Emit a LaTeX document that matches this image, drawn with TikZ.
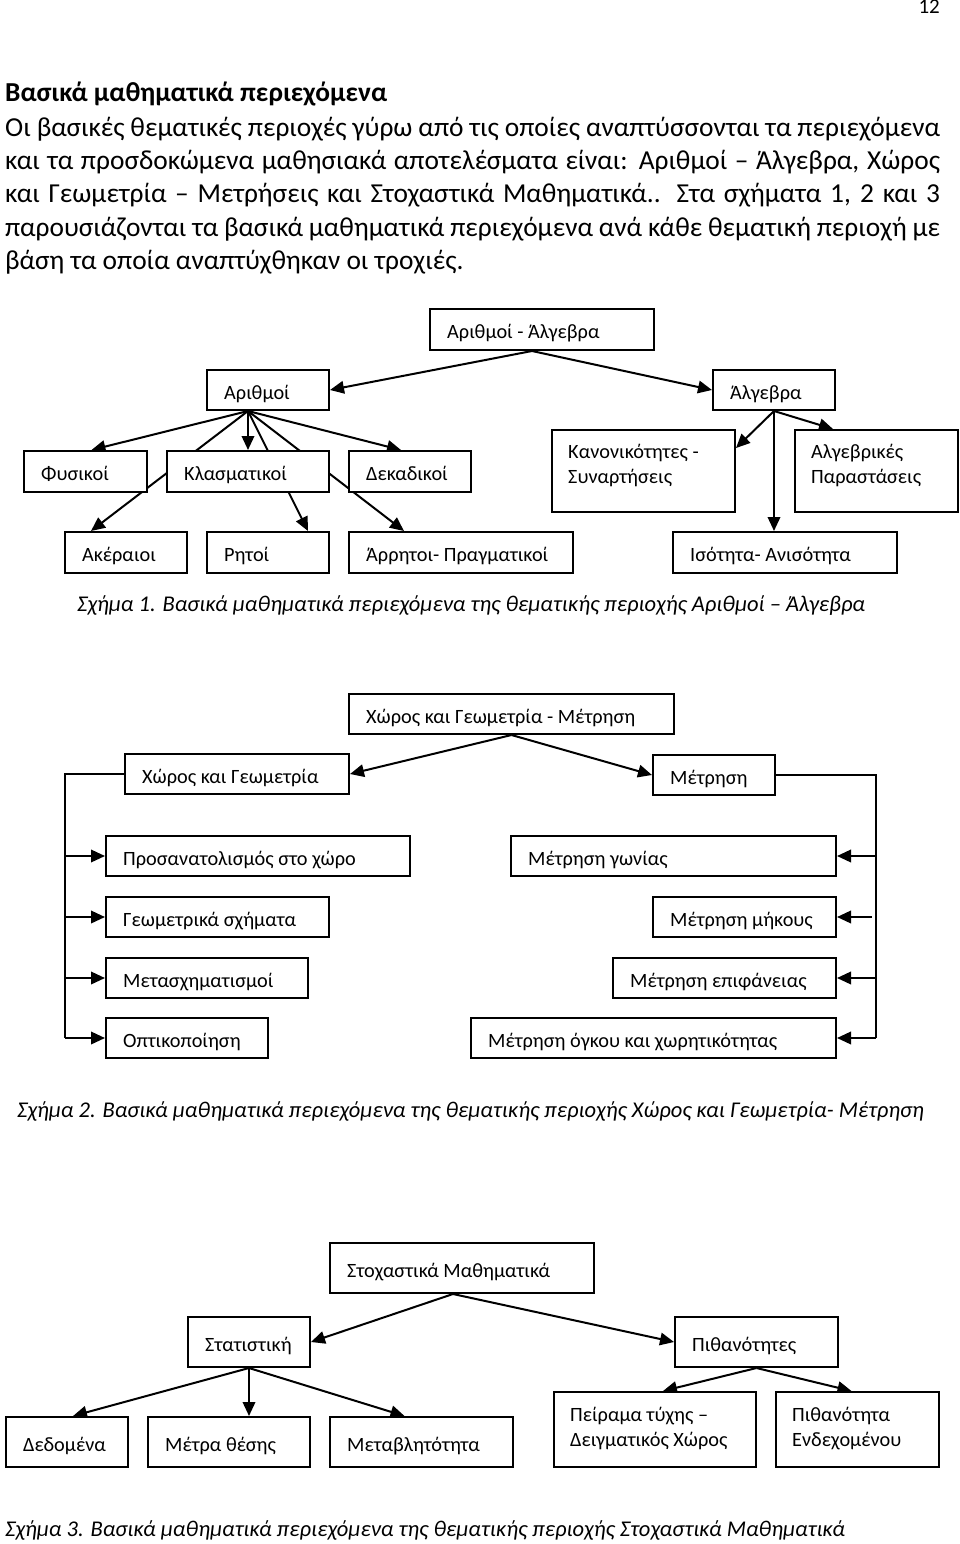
\documentclass[tikz,border=0pt]{standalone}
\usepackage{fontspec}
\setmainfont{Carlito}
\usetikzlibrary{arrows.meta,calc}
\pgfdeclarelayer{bg}
\pgfsetlayers{bg,main}
\newcommand\hdrfont{\fontsize{27.4}{33.3}\selectfont}
\newcommand\boxfont{\fontsize{20.3}{24.5}\selectfont}
\newcommand\capfont{\fontsize{22.5}{26}\selectfont\itshape}
\newcommand\bx[6]{%
  \node[box,minimum width=#4pt,minimum height=#5pt,anchor=north west] (#1) at (#2,#3) {};
  \node[lbl] (#1t) at ($(#1.west)+(18,9)$) {#6};}
\newcommand\bxtwo[8]{%
  \node[box,minimum width=#4pt,minimum height=#5pt,anchor=north west] (#1) at (#2,#3) {};
  \node[lbl] (#1t) at ($(#1.north west)+(17,#8)$) {#6};
  \node[lbl] (#1u) at ($(#1.north west)+(17,#8+25)$) {#7};}
\begin{document}
\begin{tikzpicture}[x=1pt,y=-1pt,
  box/.style={draw=black,fill=white,line width=2pt,inner sep=0pt},
  lbl/.style={inner sep=0pt,font=\boxfont,anchor=base west},
  arr/.style={line width=2pt,-{Triangle[length=14pt,width=12.5pt]}},
  ln/.style={line width=2pt},
  hdr/.style={inner sep=0pt,font=\hdrfont,anchor=base west},
  captxt/.style={inner sep=0pt,font=\capfont,anchor=west}]
\useasboundingbox (0,0) rectangle (960,1544);
\begin{pgfonlayer}{bg}
\fill[white] (0,0) rectangle (960,1544);
\end{pgfonlayer}

% page number and header
\node[inner sep=0pt,font=\fontsize{21}{24}\selectfont,anchor=north east] (pg) at (940,0) {12};
\node[hdr,font=\hdrfont\bfseries] (h0) at (5,102) {Βασικά μαθηματικά περιεχόμενα};
\node[hdr] (h1) at (5,136) {\makebox[935pt][s]{Οι βασικές θεματικές περιοχές γύρω από τις οποίες αναπτύσσονται τα περιεχόμενα}};
\node[hdr] (h2) at (5,169) {\makebox[935pt][s]{και τα προσδοκώμενα μαθησιακά αποτελέσματα είναι: Αριθμοί – Άλγεβρα, Χώρος}};
\node[hdr] (h3) at (5,202) {\makebox[935pt][s]{και Γεωμετρία – Μετρήσεις και Στοχαστικά Μαθηματικά.. Στα σχήματα 1, 2 και 3}};
\node[hdr] (h4) at (5,236) {\makebox[935pt][s]{παρουσιάζονται τα βασικά μαθηματικά περιεχόμενα ανά κάθε θεματική περιοχή με}};
\node[hdr] (h5) at (5,269) {βάση τα οποία αναπτύχθηκαν οι τροχιές.};

% ---------- Figure 1 ----------
\bx{top1}{429}{308}{224}{41}{Αριθμοί - Άλγεβρα}
\bx{ar}{206}{369}{122}{40}{Αριθμοί}
\bx{alg}{712}{369}{122}{40}{Άλγεβρα}
\bx{fys}{23}{450}{123}{41}{Φυσικοί}
\bx{klas}{166}{450}{162}{41}{Κλασματικοί}
\bx{dek}{348}{450}{122}{41}{Δεκαδικοί}
\bxtwo{kan}{551}{429}{183}{82}{Κανονικότητες -}{Συναρτήσεις}{29}
\bxtwo{alb}{794}{429}{163}{82}{Αλγεβρικές}{Παραστάσεις}{29}
\bx{ake}{64}{531}{122}{41}{Ακέραιοι}
\bx{rit}{206}{531}{122}{41}{Ρητοί}
\bx{irr}{348}{531}{224}{41}{Άρρητοι- Πραγματικοί}
\bx{iso}{672}{531}{224}{41}{Ισότητα- Ανισότητα}
\node[captxt] (c1) at (77,606) {Σχήμα 1. Βασικά μαθηματικά περιεχόμενα της θεματικής περιοχής Αριθμοί – Άλγεβρα};

\begin{pgfonlayer}{bg}
\coordinate (o0) at ($(top1.south)+(-10,0)$);
\coordinate (o1) at ($(ar.south)+(-20,0)$);
\draw[arr] (o0) -- (ar.east);
\draw[arr] (o0) -- (alg.west);
\draw[arr] (o1) -- ($(fys.north)+(6,0)$);
\draw[arr] (o1) -- (o1 |- klas.north);
\draw[arr] (o1) -- ($(dek.north)+(-9,0)$);
\draw[arr] (o1) -- ($(ake.north)+(-35,0)$);
\draw[arr] (o1) -- ($(rit.north)+(40,0)$);
\draw[arr] (o1) -- ($(irr.north)+(-57,0)$);
\draw[arr] (alg.south) -- ($(kan.north east)+(0,19)$);
\draw[arr] (alg.south) -- ($(alb.north west)+(39,0)$);
\draw[arr] (alg.south) -- (alg.south |- iso.north);
\end{pgfonlayer}

% ---------- Figure 2 ----------
\bx{t2}{348}{693}{325}{40}{Χώρος και Γεωμετρία - Μέτρηση}
\bx{xg}{124}{753}{224}{40}{Χώρος και Γεωμετρία}
\bx{mt}{652}{754}{122}{40}{Μέτρηση}
\bx{pro}{105}{835}{304}{40}{Προσανατολισμός στο χώρο}
\bx{geo}{105}{896}{223}{40}{Γεωμετρικά σχήματα}
\bx{mets}{105}{957}{202}{40}{Μετασχηματισμοί}
\bx{opt}{105}{1017}{162}{40}{Οπτικοποίηση}
\bx{mg}{510}{835}{325}{40}{Μέτρηση γωνίας}
\bx{mm}{652}{896}{183}{40}{Μέτρηση μήκους}
\bx{me}{612}{957}{223}{40}{Μέτρηση επιφάνειας}
\bx{mo}{470}{1017}{365}{40}{Μέτρηση όγκου και χωρητικότητας}
\node[captxt] (c2) at (17,1111) {Σχήμα 2. Βασικά μαθηματικά περιεχόμενα της θεματικής περιοχής Χώρος και Γεωμετρία- Μέτρηση};

\begin{pgfonlayer}{bg}
\coordinate (lx) at (65,0);
\coordinate (rx) at (876,0);
\draw[arr] (t2.south) -- (xg.east);
\draw[arr] (t2.south) -- (mt.west);
\draw[ln] (xg.west) -- (xg.west -| lx) -- (lx |- opt.west);
\draw[arr] (lx |- pro.west) -- (pro.west);
\draw[arr] (lx |- geo.west) -- (geo.west);
\draw[arr] (lx |- mets.west) -- (mets.west);
\draw[arr] (lx |- opt.west) -- (opt.west);
\draw[ln] (mt.east) -- (mt.east -| rx) -- (rx |- mo.east);
\draw[arr] (rx |- mg.east) -- (mg.east);
\draw[arr] ($(rx |- mm.east)+(-4,0)$) -- (mm.east);
\draw[arr] (rx |- me.east) -- (me.east);
\draw[arr] (rx |- mo.east) -- (mo.east);
\end{pgfonlayer}

% ---------- Figure 3 ----------
\bx{st}{329}{1242}{264}{50}{Στοχαστικά Μαθηματικά}
\bx{stat}{187}{1316}{122}{50}{Στατιστική}
\bx{pith}{674}{1316}{163}{50}{Πιθανότητες}
\bx{ded}{5}{1416}{122}{50}{Δεδομένα}
\bx{mth}{147}{1416}{162}{50}{Μέτρα θέσης}
\bx{mtb}{329}{1416}{183}{50}{Μεταβλητότητα}
\bxtwo{pei}{553}{1391}{202}{75}{Πείραμα τύχης –}{Δειγματικός Χώρος}{30}
\bxtwo{pen}{775}{1391}{163}{75}{Πιθανότητα}{Ενδεχομένου}{30}
\node[captxt] (c3) at (5,1530) {Σχήμα 3. Βασικά μαθηματικά περιεχόμενα της θεματικής περιοχής Στοχαστικά Μαθηματικά};

\begin{pgfonlayer}{bg}
\coordinate (o3) at ($(st.south)+(-9,0)$);
\draw[arr] (o3) -- (stat.east);
\draw[arr] (o3) -- (pith.west);
\draw[arr] (stat.south) -- ($(ded.north)+(6,0)$);
\draw[arr] (stat.south) -- (stat.south |- mth.north);
\draw[arr] (stat.south) -- ($(mtb.north)+(-17,0)$);
\draw[arr] (pith.south) -- ($(pei.north)+(8,0)$);
\draw[arr] (pith.south) -- ($(pen.north)+(-6,0)$);
\end{pgfonlayer}
\end{tikzpicture}
\end{document}
